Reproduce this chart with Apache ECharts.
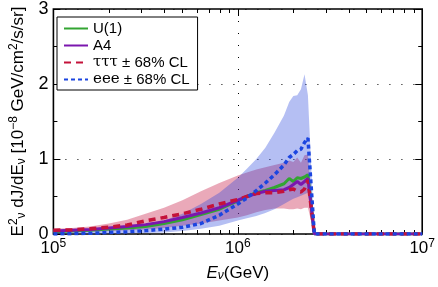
<!DOCTYPE html>
<html>
<head>
<meta charset="utf-8">
<script src="https://cdn.jsdelivr.net/npm/echarts@6/dist/echarts.min.js"></script>
<style>
html,body{margin:0;padding:0;background:#fff;}
#c{width:438px;height:287px;}
</style>
</head>
<body>
<div id="c"></div>
<script>
// Energies (GeV)
const energy = [1.0e5, 1.26e5, 1.58e5, 2.0e5, 2.51e5, 3.16e5, 3.98e5, 5.01e5, 6.31e5, 7.94e5, 1.0e6, 1.12e6, 1.26e6, 1.41e6, 1.58e6, 1.78e6, 1.9e6, 2.0e6, 2.1e6, 2.2e6, 2.3e6, 2.4e6, 2.6e6, 1.0e7];
// E^2 dJ/dE [1e-8 GeV/cm2/s/sr]
const u1   = [0.03, 0.04, 0.05, 0.065, 0.08, 0.10, 0.14, 0.19, 0.26, 0.33, 0.44, 0.50, 0.55, 0.58, 0.62, 0.67, 0.74, 0.70, 0.75, 0.74, 0.76, 0.79, 0, 0];
const a4   = [0.04, 0.05, 0.06, 0.08, 0.10, 0.125, 0.165, 0.22, 0.28, 0.35, 0.45, 0.50, 0.54, 0.57, 0.58, 0.59, 0.62, 0.66, 0.70, 0.66, 0.70, 0.74, 0, 0];
const tau  = [0.05, 0.055, 0.07, 0.09, 0.12, 0.175, 0.22, 0.27, 0.33, 0.40, 0.46, 0.50, 0.54, 0.55, 0.55, 0.57, 0.59, 0.60, 0.57, 0.56, 0.60, 0.72, 0, 0];
const tauLo = [0.02, 0.02, 0.03, 0.04, 0.05, 0.06, 0.08, 0.11, 0.14, 0.18, 0.22, 0.25, 0.29, 0.32, 0.34, 0.34, 0.33, 0.33, 0.34, 0.33, 0.35, 0.35, 0, 0];
const tauHi = [0.07, 0.08, 0.10, 0.14, 0.19, 0.27, 0.35, 0.45, 0.57, 0.68, 0.78, 0.82, 0.86, 0.89, 0.92, 0.95, 0.98, 0.96, 1.02, 0.95, 1.05, 1.06, 0, 0];
const eee  = [0.0, 0.005, 0.01, 0.02, 0.03, 0.045, 0.065, 0.09, 0.14, 0.25, 0.40, 0.48, 0.58, 0.68, 0.79, 0.92, 1.02, 1.06, 1.11, 1.13, 1.22, 1.28, 0, 0];
const eeeLo = [0, 0, 0, 0.005, 0.01, 0.015, 0.02, 0.04, 0.07, 0.11, 0.18, 0.21, 0.24, 0.28, 0.33, 0.40, 0.44, 0.47, 0.49, 0.51, 0.53, 0.55, 0, 0];
const eeeHi = [0.01, 0.02, 0.03, 0.05, 0.08, 0.12, 0.18, 0.27, 0.40, 0.55, 0.75, 0.87, 1.0, 1.15, 1.35, 1.58, 1.76, 1.84, 1.85, 1.93, 2.13, 1.85, 0, 0];
// axis ticks
const xMajor = [1e5, 1e6, 1e7];
const xMinor = [2e5, 3e5, 4e5, 5e5, 6e5, 7e5, 8e5, 9e5, 2e6, 3e6, 4e6, 5e6, 6e6, 7e6, 8e6, 9e6];

const pair = arr => energy.map((e, i) => [e, arr[i]]);

function band(lo, hi, fill) {
  return {
    type: 'custom',
    silent: true,
    clip: true,
    data: [[1e6, 0]],
    renderItem: function (params, api) {
      const pts = [];
      for (let i = 0; i < energy.length; i++) pts.push(api.coord([energy[i], hi[i]]));
      for (let i = energy.length - 1; i >= 0; i--) pts.push(api.coord([energy[i], lo[i]]));
      return { type: 'polygon', shape: { points: pts }, style: { fill: fill } };
    }
  };
}

const SANS = 'Liberation Sans';
const chart = echarts.init(document.getElementById('c'), null, { renderer: 'canvas' });

const supRich = {
  b: { fontSize: 17, fontFamily: SANS, color: '#000' },
  s: { fontSize: 12, fontFamily: SANS, color: '#000', padding: [0, 0, 9, 0] }
};

const commonX = { type: 'log', logBase: 10, min: 1e5, max: 1e7, gridIndex: 0 };

const option = {
  animation: false,
  backgroundColor: '#fff',
  grid: { left: 41, right: 13, top: 6, bottom: 50, show: true, borderColor: '#000', borderWidth: 1.6, backgroundColor: 'transparent' },
  legend: {
    data: ['U(1)', 'A4', 'τττ', 'eee'],
    orient: 'vertical',
    left: 57, top: 17,
    backgroundColor: '#fff',
    borderColor: '#000', borderWidth: 1,
    padding: [4, 8, 3, 6],
    itemWidth: 24, itemHeight: 15, itemGap: 2,
    itemStyle: { color: 'rgba(0,0,0,0)', borderWidth: 0, opacity: 0 },
    textStyle: { fontSize: 15, fontFamily: SANS, color: '#000',
      rich: { g: { fontSize: 15, fontFamily: 'DejaVu Serif', color: '#000' }, t: { fontSize: 15, fontFamily: SANS, color: '#000' } } },
    formatter: function (n) {
      if (n === 'τττ' || n === 'eee') return '{g|' + n + '}{t| ± 68% CL}';
      return n;
    }
  },
  xAxis: [
    Object.assign({}, commonX, {
      position: 'bottom',
      name: '{e|E}{n|ν}{t|(GeV)}', nameLocation: 'middle', nameGap: 30,
      nameTextStyle: { rich: {
        e: { fontSize: 17, fontStyle: 'italic', fontFamily: SANS, color: '#000' },
        n: { fontSize: 12, fontStyle: 'italic', fontFamily: SANS, color: '#000', padding: [6, 0, 0, 0] },
        t: { fontSize: 17, fontFamily: SANS, color: '#000' } } },
      axisLine: { show: false },
      axisTick: { show: true, inside: true, length: 7, lineStyle: { color: '#000', width: 1 } },
      axisLabel: { show: true, margin: 4, formatter: v => '{b|10}{s|' + Math.round(Math.log10(v)) + '}', rich: supRich },
      splitLine: { show: true, lineStyle: { color: '#000', width: 1, type: [1, 11] } }
    }),
    Object.assign({}, commonX, {
      position: 'bottom',
      axisLine: { show: false },
      axisTick: { show: true, inside: true, length: 4, customValues: xMinor, lineStyle: { color: '#000', width: 1 } },
      axisLabel: { show: false }, splitLine: { show: false }
    }),
    Object.assign({}, commonX, {
      position: 'top',
      axisLine: { show: false },
      axisTick: { show: true, inside: true, length: 7, customValues: xMajor, lineStyle: { color: '#000', width: 1 } },
      axisLabel: { show: false }, splitLine: { show: false }
    }),
    Object.assign({}, commonX, {
      position: 'top',
      axisLine: { show: false },
      axisTick: { show: true, inside: true, length: 4, customValues: xMinor, lineStyle: { color: '#000', width: 1 } },
      axisLabel: { show: false }, splitLine: { show: false }
    })
  ],
  yAxis: [
    {
      type: 'value', min: 0, max: 3, interval: 1, position: 'left',
      name: '{e|E}{p|2}{n|ν}{t| dJ/d}{e|E}{n|ν}{t| [10}{p|−8}{t| GeV/cm}{p|2}{t|/s/sr]}',
      nameLocation: 'middle', nameGap: 20, nameRotate: 90,
      nameTextStyle: { rich: {
        e: { fontSize: 17, fontFamily: SANS, color: '#000' },
        t: { fontSize: 17, fontFamily: SANS, color: '#000' },
        p: { fontSize: 12, fontFamily: SANS, color: '#000', padding: [0, 0, 9, 0] },
        n: { fontSize: 12, fontFamily: SANS, color: '#000', padding: [6, 0, 0, 0] } } },
      axisLine: { show: false },
      axisTick: { show: true, inside: true, length: 7, lineStyle: { color: '#000', width: 1 } },
      minorTick: { show: true, splitNumber: 2, length: 4, lineStyle: { color: '#000', width: 1 } },
      axisLabel: { show: true, margin: 5, fontSize: 18, fontFamily: SANS, color: '#000' },
      splitLine: { show: true, lineStyle: { color: '#000', width: 1, type: [1, 11] } }
    },
    {
      type: 'value', min: 0, max: 3, interval: 1, position: 'right',
      axisLine: { show: false },
      axisTick: { show: true, inside: true, length: 7, lineStyle: { color: '#000', width: 1 } },
      minorTick: { show: true, splitNumber: 2, length: 4, lineStyle: { color: '#000', width: 1 } },
      axisLabel: { show: false }, splitLine: { show: false }
    }
  ],
  series: [
    Object.assign(band(tauLo, tauHi, 'rgba(200,30,70,0.38)'), { name: 'bandTau', z: 1 }),
    Object.assign(band(eeeLo, eeeHi, 'rgba(30,60,220,0.33)'), { name: 'bandEee', z: 1 }),
    { name: 'U(1)', type: 'line', data: pair(u1), symbol: 'none', z: 3,
      lineStyle: { color: '#33a532', width: 3 }, itemStyle: { color: '#33a532' } },
    { name: 'A4', type: 'line', data: pair(a4), symbol: 'none', z: 4,
      lineStyle: { color: '#7b16ae', width: 3 }, itemStyle: { color: '#7b16ae' } },
    { name: 'τττ', type: 'line', data: pair(tau), symbol: 'none', z: 5,
      lineStyle: { color: '#c4123a', width: 3.5, type: [7, 5] }, itemStyle: { color: '#c4123a' } },
    { name: 'eee', type: 'line', data: pair(eee), symbol: 'none', z: 6,
      lineStyle: { color: '#1b45e0', width: 3.5, type: [4, 3] }, itemStyle: { color: '#1b45e0' } }
  ]
};
chart.setOption(option);
</script>
</body>
</html>
